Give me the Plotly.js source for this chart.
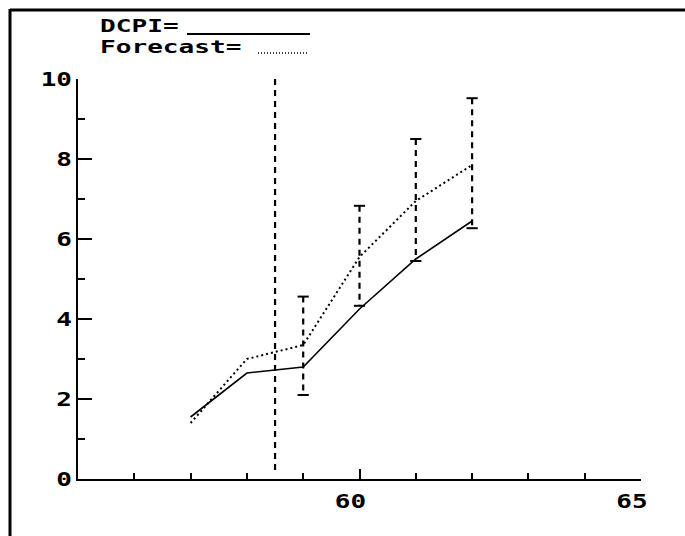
<!DOCTYPE html>
<html>
<head>
<meta charset="utf-8">
<script src="https://cdn.plot.ly/plotly-3.0.1.min.js"></script>
<style>html,body{margin:0;padding:0;background:#fff;}</style>
</head>
<body>
<div id="chart" style="width:685px;height:536px;"></div>
<script>
// ---- data ----
const years = [57, 58, 59, 60, 61, 62];
const dcpi = [1.55, 2.65, 2.8, 4.25, 5.5, 6.45];
const forecast = [1.4, 3.0, 3.35, 5.55, 6.95, 7.85];
const barX = [58.5, 59, 60, 61, 62];
const barLow = [0.12, 2.1, 4.33, 5.45, 6.27];
const barHigh = [10, 4.56, 6.83, 8.5, 9.52];
const barCapped = [false, true, true, true, true];
const xTickVals = [60, 65];
const xTickText = ['60', '65'];
const yTickVals = [0, 2, 4, 6, 8, 10];
const yTickText = ['0', '2', '4', '6', '8', '10'];
const legendNames = ['DCPI=', 'Forecast='];

// build error-bar segments (drawn top to bottom)
const segX = [], segY = [], capX = [], capY = [];
barX.forEach((x, i) => {
  segX.push(x, x, null);
  segY.push(barHigh[i], barLow[i], null);
  if (barCapped[i]) { capX.push(x, x); capY.push(barLow[i], barHigh[i]); }
});

const mono = 'DejaVu Sans Mono, Liberation Mono, monospace';

const traces = [
  {x: segX, y: segY, mode: 'lines', line: {color: '#000', width: 2.2, dash: '6px,5px'}, hoverinfo: 'skip', showlegend: false, cliponaxis: false},
  {x: capX, y: capY, mode: 'markers', marker: {symbol: 'line-ew', size: 8, line: {color: '#000', width: 2}}, hoverinfo: 'skip', showlegend: false, cliponaxis: false},
  {x: years, y: forecast, mode: 'lines', line: {color: '#000', width: 2, dash: '2px,3px'}, showlegend: false},
  {x: years, y: dcpi, mode: 'lines', line: {color: '#000', width: 1.6}, showlegend: false}
];

// plot area: x 78..641, y 79..479
const L = 78, T = 79, W = 563, H = 400;
const px = v => (v - L) / W;
const py = v => (T + H - v) / H;

const layout = {
  width: 685, height: 536,
  margin: {l: L, r: 685 - L - W, t: T, b: 536 - T - H, pad: 0},
  paper_bgcolor: '#fff', plot_bgcolor: '#fff',
  showlegend: false,
  xaxis: {
    range: [55, 65], tickmode: 'array', tickvals: xTickVals, ticktext: xTickText,
    ticks: 'inside', ticklen: 10, tickwidth: 2, tickcolor: '#000',
    minor: {tickmode: 'linear', tick0: 55, dtick: 1, ticks: 'inside', ticklen: 6, tickwidth: 2, tickcolor: '#000', showgrid: false},
    showline: true, linecolor: '#000', linewidth: 2, showgrid: false, zeroline: false,
    tickfont: {family: mono, size: 20, color: '#000', weight: 'bold'},
    ticklabelstandoff: 3, ticklabelshift: -9, fixedrange: true
  },
  yaxis: {
    range: [0, 10], tickmode: 'array', tickvals: yTickVals, ticktext: yTickText,
    ticks: 'inside', ticklen: 14, tickwidth: 2, tickcolor: '#000',
    minor: {tickmode: 'linear', tick0: 0, dtick: 1, ticks: 'inside', ticklen: 7, tickwidth: 2, tickcolor: '#000', showgrid: false},
    showline: true, linecolor: '#000', linewidth: 2, showgrid: false, zeroline: false,
    tickfont: {family: mono, size: 20, color: '#000', weight: 'bold'},
    ticklabelstandoff: 0, fixedrange: true
  },
  shapes: [
    // image frame (top and left only)
    {type: 'line', xref: 'paper', yref: 'paper', x0: px(10), x1: px(690), y0: py(10), y1: py(10), line: {color: '#000', width: 3}},
    {type: 'line', xref: 'paper', yref: 'paper', x0: px(10), x1: px(10), y0: py(9), y1: py(540), line: {color: '#000', width: 3}},
    // legend samples
    {type: 'line', xref: 'paper', yref: 'paper', x0: px(187), x1: px(310), y0: py(34), y1: py(34), line: {color: '#000', width: 2}},
    {type: 'line', xref: 'paper', yref: 'paper', x0: px(258), x1: px(308), y0: py(53), y1: py(53), line: {color: '#000', width: 1.5, dash: '1px,2px'}}
  ],
  annotations: [
    {xref: 'paper', yref: 'paper', x: px(99), y: py(26), xanchor: 'left', yanchor: 'middle', align: 'left', showarrow: false, borderpad: 0, text: legendNames[0], font: {family: mono, size: 18, color: '#000', weight: 'bold'}},
    {xref: 'paper', yref: 'paper', x: px(99), y: py(47), xanchor: 'left', yanchor: 'middle', align: 'left', showarrow: false, borderpad: 0, text: legendNames[1], font: {family: mono, size: 18, color: '#000', weight: 'bold'}}
  ]
};

function widen(el, factor, keep) {
  const b0 = el.getBBox();
  el.setAttribute('textLength', (el.getComputedTextLength() * factor).toFixed(1));
  el.setAttribute('lengthAdjust', 'spacingAndGlyphs');
  const b1 = el.getBBox();
  let dx = 0;
  if (keep === 'right') dx = (b0.x + b0.width) - (b1.x + b1.width);
  else if (keep === 'center') dx = (b0.x + b0.width / 2) - (b1.x + b1.width / 2);
  else dx = b0.x - b1.x;
  el.setAttribute('x', (parseFloat(el.getAttribute('x') || 0) + dx).toFixed(1));
}

Plotly.newPlot('chart', traces, layout, {displayModeBar: false, staticPlot: true}).then(gd => {
  // widen the text to mimic the stretched bitmap font of the original
  gd.querySelectorAll('.xtick text').forEach(el => widen(el, 1.3, 'center'));
  gd.querySelectorAll('.ytick text').forEach(el => widen(el, 1.3, 'right'));
  gd.querySelectorAll('.annotation-text').forEach(el => widen(el, 1.45, 'left'));
});
</script>
</body>
</html>
